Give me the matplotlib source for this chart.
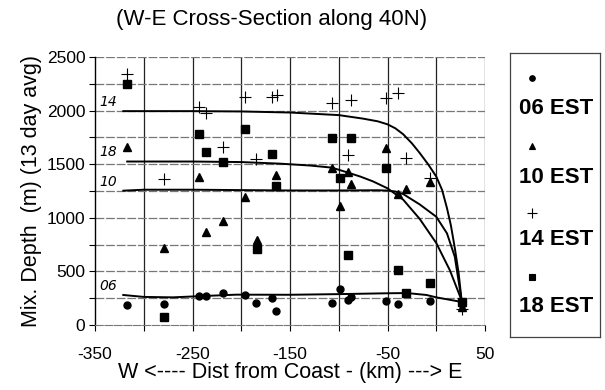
import matplotlib
matplotlib.use("Agg")
import matplotlib.pyplot as plt

plt.rcParams['font.family'] = ['Liberation Sans', 'DejaVu Sans']

# ---------------- data ----------------
title = "(W-E Cross-Section along 40N)"
xlabel = "W <---- Dist from Coast - (km) ---> E"
ylabel = "Mix. Depth  (m) (13 day avg)"
xticks = [-350, -250, -150, -50, 50]
yticks = [0, 500, 1000, 1500, 2000, 2500]

x06 = [-317, -279, -243, -236, -219, -196, -185, -168, -164, -107, -99, -91, -87, -52, -39, -6, 26]
y06 = [187, 196, 273, 273, 296, 280, 208, 255, 133, 208, 336, 233, 264, 224, 196, 224, 200]

x10 = [-317, -279, -243, -236, -219, -196, -184, -164, -107, -99, -91, -87, -52, -39, -31, -6, 26]
y10 = [1663, 715, 1383, 870, 973, 1197, 790, 1399, 1462, 1110, 1425, 1315, 1654, 1222, 1269, 1330, 170]

x14 = [-317, -279, -243, -236, -219, -196, -185, -168, -163, -107, -91, -87, -52, -39, -31, -6, 26]
y14 = [2339, 1359, 2036, 1980, 1657, 2124, 1545, 2130, 2150, 2068, 1586, 2099, 2115, 2161, 1560, 1375, 150]

x18 = [-317, -279, -243, -236, -219, -196, -184, -168, -164, -107, -99, -91, -87, -52, -39, -31, -6, 26]
y18 = [2248, 77, 1779, 1617, 1520, 1825, 709, 1595, 1300, 1748, 1368, 653, 1742, 1462, 513, 301, 392, 218]

# fitted curves
cx14 = [-321, -250, -200, -150, -100, -75, -60, -50, -42, -34, -25, -17, -8, 0, 6, 11, 15, 19, 23, 26]
cy14 = [1995, 1995, 1992, 1982, 1958, 1925, 1900, 1872, 1835, 1780, 1695, 1605, 1495, 1385, 1260, 1090, 930, 720, 480, 230]
cx18 = [-317, -250, -200, -160, -130, -107, -90, -78, -65, -50, -34, -17, 0, 14, 26]
cy18 = [1525, 1525, 1520, 1505, 1488, 1468, 1420, 1385, 1340, 1275, 1170, 990, 765, 510, 230]
cx10 = [-321, -300, -250, -150, -100, -60, -50, -42, -34, -17, 0, 11, 19, 26]
cy10 = [1253, 1262, 1262, 1255, 1255, 1257, 1254, 1245, 1222, 1125, 1010, 855, 637, 230]
cx06 = [-321, -300, -270, -240, -205, -150, -100, -50, -30, -10, 0, 26]
cy06 = [280, 262, 258, 270, 283, 282, 288, 296, 298, 280, 258, 215]

curve_labels = ["14", "18", "10", "06"]
curve_label_y = [1995, 1525, 1253, 280]

legend_labels = ["06 EST", "10 EST", "14 EST", "18 EST"]

# ---------------- figure ----------------
W, H = 605, 390
fig = plt.figure(figsize=(W / 100, H / 100), dpi=100)
ax = fig.add_axes([95 / W, 1 - 325 / H, 390 / W, 268 / H])

ax.set_xlim(-350, 50)
ax.set_ylim(0, 2500)

# grid
for gx in range(-300, 51, 50):
    ax.axvline(gx, color='#222222', lw=0.9, zorder=1)
for gy in range(250, 2501, 250):
    ax.axhline(gy, color='#777777', lw=0.9, ls=(0, (7, 1.5)), zorder=1)

for s in ['top', 'right']:
    ax.spines[s].set_visible(False)
ax.spines['bottom'].set_color('#777777')
ax.spines['bottom'].set_linestyle((0, (7, 1.5)))
ax.spines['left'].set_color('black')
ax.spines['left'].set_linewidth(1.0)

ax.set_xticks(list(range(-350, 51, 50)))
ax.set_xticklabels([str(v) if v in xticks else "" for v in range(-350, 51, 50)])
ax.set_yticks(list(range(0, 2501, 250)))
ax.set_yticklabels([str(v) if v in yticks else "" for v in range(0, 2501, 250)])
ax.tick_params(axis='both', labelsize=12.5, length=4, width=0.8, colors='black', pad=3)
ax.tick_params(axis='x', pad=12)

ax.set_xlabel(xlabel, fontsize=15.5, labelpad=0)
ax.set_ylabel(ylabel, fontsize=15.5, labelpad=3)
fig.text(272 / W, 1 - 20 / H, title, ha='center', va='center', fontsize=16)

# curves
for cx, cy in [(cx14, cy14), (cx18, cy18), (cx10, cy10), (cx06, cy06)]:
    ax.plot(cx, cy, color='black', lw=1.4, zorder=3)

for lab, ly in zip(curve_labels, curve_label_y):
    ax.text(-346, ly + 20, lab, fontsize=10, fontstyle='italic', ha='left', va='bottom',
            family=['DejaVu Sans'])

# points
ax.plot(x06, y06, 'o', color='black', ms=5, ls='none', zorder=4)
ax.plot(x10, y10, '^', color='black', ms=6, ls='none', zorder=4)
ax.plot(x14, y14, '+', color='black', ms=8, mew=0.8, ls='none', zorder=4)
ax.plot(x18, y18, 's', color='black', ms=6, ls='none', zorder=4)

# legend box
lax = fig.add_axes([510 / W, 1 - 337 / H, 90 / W, 284 / H])
lax.set_xlim(0, 1)
lax.set_ylim(0, 1)
lax.set_xticks([])
lax.set_yticks([])
for s in lax.spines.values():
    s.set_color('#444444')
    s.set_linewidth(0.9)

mk = [('o', 4), ('^', 4.5), ('+', 7), ('s', 4)]
mk_y = [0.912, 0.673, 0.437, 0.211]
tx_y = [0.806, 0.563, 0.342, 0.106]
for (m, s), my, ty, lab in zip(mk, mk_y, tx_y, legend_labels):
    lax.plot([0.244], [my], m, color='black', ms=s, mew=0.8)
    lax.text(0.1, ty, lab, fontsize=16, fontweight='bold', ha='left', va='center')

fig.savefig("out.png", dpi=100)
